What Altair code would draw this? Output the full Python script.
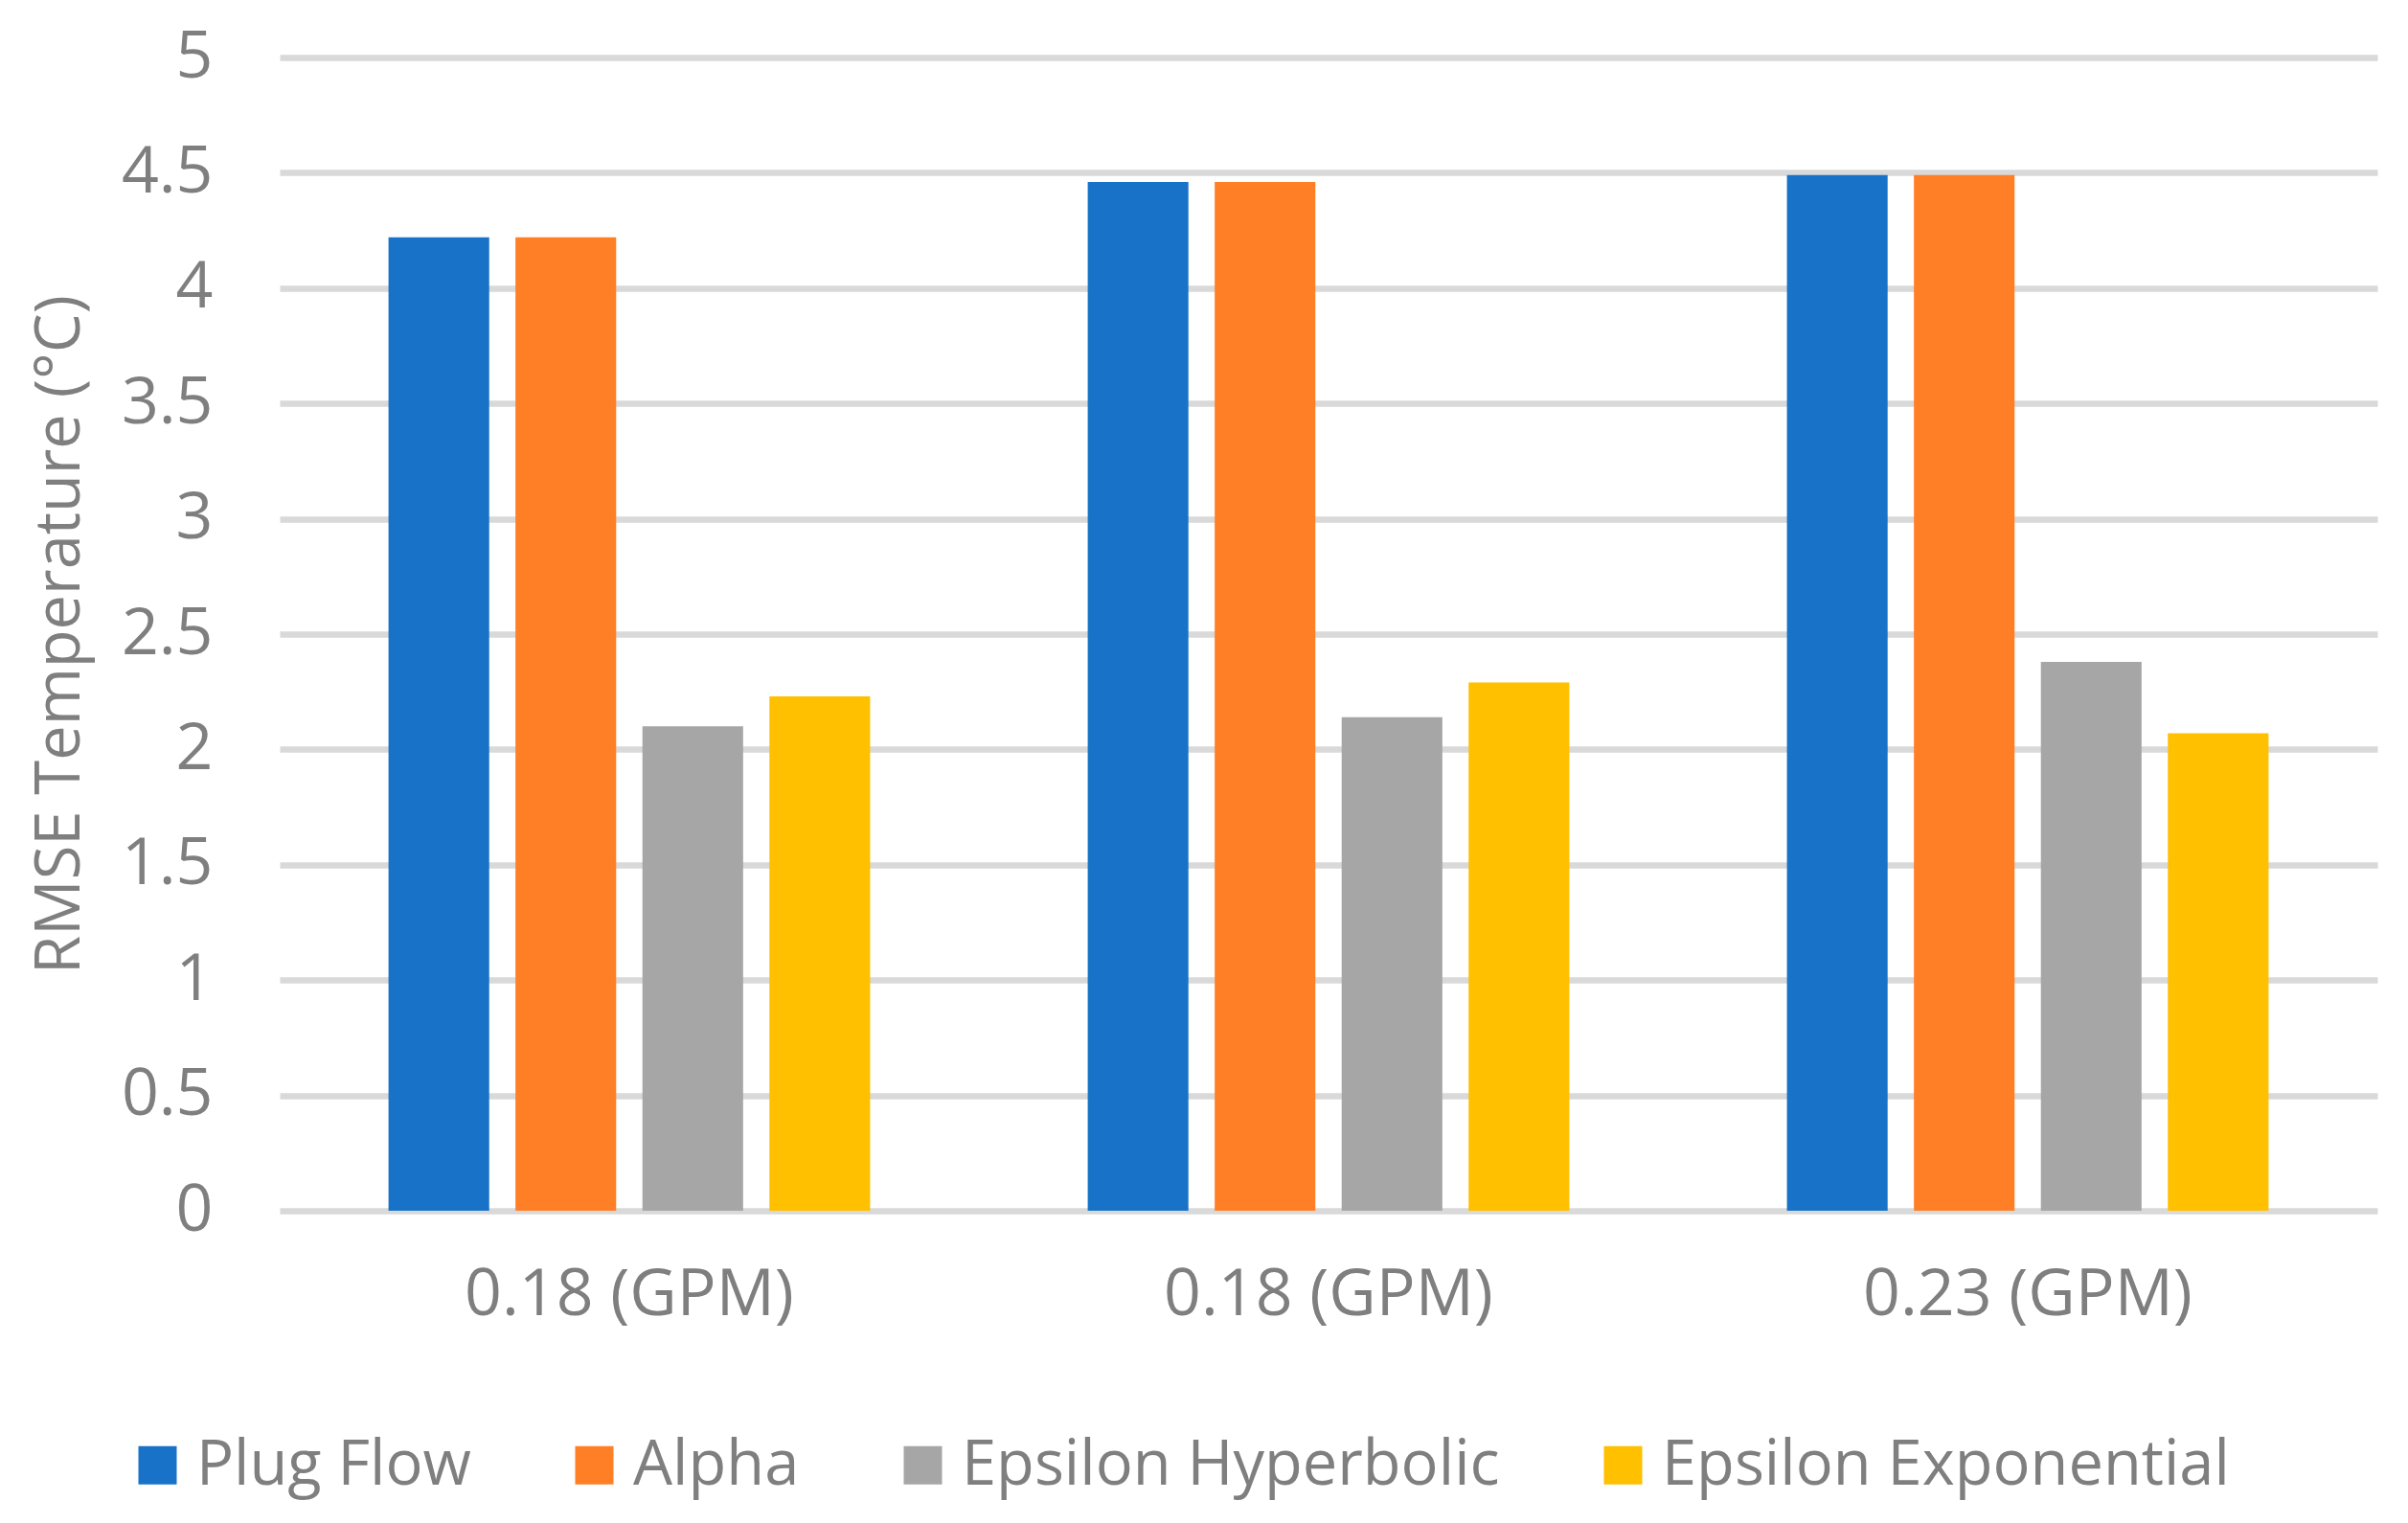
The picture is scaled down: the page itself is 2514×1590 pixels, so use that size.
import altair as alt
import pandas as pd

group_labels = ["0.18 (GPM)", "0.18 (GPM)", "0.23 (GPM)"]
series = ["Plug Flow", "Alpha", "Epsilon Hyperbolic", "Epsilon Exponential"]
colors = ["#1873C8", "#FF7F27", "#A6A6A6", "#FFC000"]
plug_flow = [4.22, 4.46, 4.49]
alpha = [4.22, 4.46, 4.49]
eps_hyper = [2.10, 2.14, 2.38]
eps_expo = [2.23, 2.29, 2.07]

rows = []
for s, vals in zip(series, [plug_flow, alpha, eps_hyper, eps_expo]):
    for i, v in enumerate(vals):
        rows.append({"group": i, "series": s, "value": v})
df = pd.DataFrame(rows)

label_expr = "[" + ",".join("'%s'" % l for l in group_labels) + "][datum.value]"
FONT = "Open Sans"
GRAY = "#7F7F7F"

chart = alt.Chart(df).mark_bar().encode(
    x=alt.X("group:O", scale=alt.Scale(paddingInner=0, paddingOuter=0),
            axis=alt.Axis(title=None, labelExpr=label_expr, labelAngle=0, domain=False,
                          ticks=False, labelFontSize=68, labelFont=FONT, labelColor=GRAY,
                          labelPadding=54, grid=False, labelLimit=1000)),
    xOffset=alt.XOffset("series:N", sort=series,
                        scale=alt.Scale(paddingInner=0.207, paddingOuter=0.857)),
    y=alt.Y("value:Q", scale=alt.Scale(domain=[0, 5]),
            axis=alt.Axis(title="RMSE Temperature (°C)", values=[0, 0.5, 1, 1.5, 2, 2.5, 3, 3.5, 4, 4.5, 5],
                          format="~g", domain=False, ticks=False, labelFontSize=68,
                          labelFont=FONT, labelColor=GRAY, labelPadding=70,
                          titleFontSize=65, titleFont=FONT, titleColor=GRAY,
                          titleFontWeight="normal", titlePadding=30,
                          gridColor="#D9D9D9", gridWidth=6.5)),
    color=alt.Color("series:N", sort=series,
                    scale=alt.Scale(domain=series, range=colors),
                    legend=alt.Legend(title=None, orient="none", direction="horizontal",
                                      legendX=-160, legendY=1437, symbolType="square",
                                      symbolSize=1600, symbolStrokeWidth=0, labelFontSize=65,
                                      labelFont=FONT, labelColor=GRAY, labelOffset=8,
                                      columnPadding=96, padding=0, symbolOpacity=1,
                                      labelLimit=1000)),
).properties(
    width=2190, height=1204,
    autosize=alt.AutoSizeParams(type="none"),
    padding={"left": 284, "top": 52, "right": 24, "bottom": 318},
).configure_view(stroke=None)

chart.save("out.html", embed_options={"renderer": "svg", "actions": False})
